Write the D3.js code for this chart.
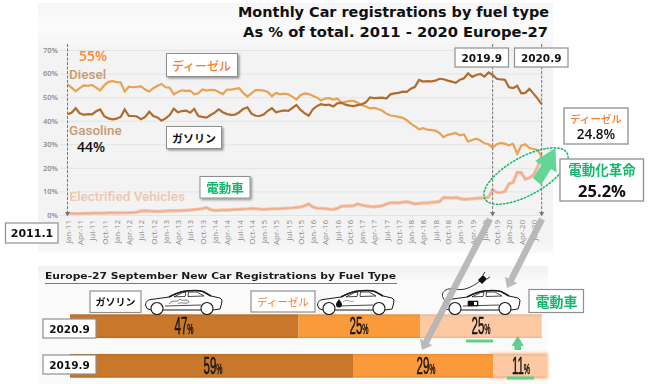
<!DOCTYPE html>
<html><head><meta charset="utf-8">
<script src="https://cdn.jsdelivr.net/npm/d3@7/dist/d3.min.js"></script>
<style>
html,body{margin:0;padding:0;background:#fff;overflow:hidden}
svg{display:block;filter:blur(0.3px)}
text{font-family:"Open Sans","Noto Sans",sans-serif}
</style></head><body><svg id="c" width="650" height="384"></svg>
<script>
const dieselValues=[55.4,54.0,52.5,53.8,55.0,54.8,55.2,54.0,52.8,55.0,56.5,56.8,
56.4,56.2,52.4,54.4,54.2,54.4,54.6,53.2,52.4,53.8,54.8,55.6,
54.2,54.0,51.2,52.2,52.9,52.7,52.8,51.2,51.6,53.3,52.8,53.1,
53.0,52.2,51.3,53.2,53.2,53.5,53.8,51.8,50.2,51.6,53.0,53.0,
52.8,52.2,50.4,51.8,51.2,51.5,51.2,50.2,49.0,50.8,51.6,51.3,
50.6,49.8,48.6,49.4,49.6,49.0,49.4,47.6,48.0,48.4,48.4,47.6,
46.6,46.0,45.2,45.4,45.0,44.2,43.0,42.2,42.0,41.6,41.2,40.2,
38.8,37.6,36.4,36.8,36.2,36.0,35.8,34.8,33.0,34.0,34.4,34.8,
33.8,34.2,31.1,31.8,32.4,31.6,30.4,30.0,28.6,30.0,30.6,30.2,
29.6,30.2,26.0,29.4,30.0,28.4,28.0,27.6,24.8];
const gasolineValues=[42.7,43.4,45.3,43.1,42.5,42.8,42.7,44.0,44.8,41.9,41.0,40.6,
40.9,41.6,44.8,42.0,42.0,41.8,40.6,41.6,43.8,42.0,41.4,40.0,
41.0,42.4,45.1,43.6,44.1,44.3,43.4,45.0,42.0,41.6,41.3,42.4,
43.4,44.8,43.6,42.8,42.5,42.6,43.6,45.0,45.7,43.0,42.1,42.0,
42.6,44.2,45.3,43.6,44.0,44.4,44.2,45.4,46.7,44.6,43.2,42.1,
44.8,46.2,47.0,46.6,46.8,46.0,47.4,47.6,46.8,46.4,46.2,46.6,
47.0,47.8,49.9,49.6,49.7,49.8,49.4,51.2,51.6,51.8,52.3,52.2,
53.6,54.4,57.3,56.6,56.8,56.7,57.0,57.8,57.6,57.0,56.6,56.1,
57.4,58.0,60.1,58.6,59.4,59.8,58.7,60.5,59.4,57.8,57.5,57.4,
54.2,53.8,54.8,51.6,51.8,53.5,51.5,49.4,47.0];
const electrifiedValues=[.7,.7,.6,.6,.7,.7,.8,.8,.8,.8,.9,.9,
.9,.9,.9,1,1,1.2,1.7,1.8,1.7,1.6,1.5,1.6,
1.7,1.8,1.8,1.8,1.9,2,2.1,2.3,2.5,2.7,3.1,2.3,
1.9,2,2.1,2.1,2.2,2.4,2.4,2.5,2.6,2.8,2.7,2.5,
2.4,2.5,2.6,2.6,2.7,2.8,2.9,3.0,3.2,3.4,3.9,4.7,
3.4,2.9,2.8,2.7,2.5,2.4,2.8,3.7,3.8,3.8,4.0,4.7,
4.2,3.9,3.6,3.5,3.7,3.9,4.6,5.2,5.2,5.1,5.4,5.6,
5.2,4.7,4.9,5.1,5.1,5.3,5.5,5.7,7.4,7.3,7.2,7.4,
7.0,6.6,6.8,6.9,7.1,7.2,7.3,7.6,10.6,9.6,9.5,10.0,
13.2,13.8,18.1,18.0,15.2,15.8,17.0,20.4,25.2];
const xTickLabels=["Jan-11","Apr-11","Jul-11","Oct-11","Jan-12","Apr-12","Jul-12","Oct-12","Jan-13","Apr-13","Jul-13","Oct-13","Jan-14","Apr-14","Jul-14","Oct-14","Jan-15","Apr-15","Jul-15","Oct-15","Jan-16","Apr-16","Jul-16","Oct-16","Jan-17","Apr-17","Jul-17","Oct-17","Jan-18","Apr-18","Jul-18","Oct-18","Jan-19","Apr-19","Jul-19","Oct-19","Jan-20","Apr-20","Jul-20"];
const yTicks=[0,10,20,30,40,50,60,70];
const fuels=["ガソリン","ディーゼル","電動車"];
const barRows=["2020.9","2019.9"];
const bar2020=[47,25,25];
const bar2019=[59,29,11];
const barColors=["#c9772a","#fb9a3a","#fdc9a2"];

const svg=d3.select("#c");
const defs=svg.append("defs");
const shadow=defs.append("filter").attr("id","sh").attr("x","-20%").attr("y","-20%").attr("width","150%").attr("height","150%");
shadow.append("feDropShadow").attr("dx",1.5).attr("dy",1.5).attr("stdDeviation",1).attr("flood-color","#000").attr("flood-opacity",.4);
defs.append("filter").attr("id","gl").attr("x","-20%").attr("y","-20%").attr("width","140%").attr("height","140%").append("feGaussianBlur").attr("stdDeviation",1.5);
const grad=(id,stops)=>{const g=defs.append("linearGradient").attr("id",id).attr("x1",0).attr("x2",0).attr("y1",0).attr("y2",1);
 stops.forEach(s=>g.append("stop").attr("offset",s[0]).attr("stop-color",s[1]));};
grad("pan1",[[0,"#f6f6f6"],[.1,"#fbfbfb"],[.2,"#f3f3f3"],[.95,"#f3f3f3"],[1,"#fafafa"]]);
grad("pan2",[[0,"#f1f1f1"],[.15,"#fbfbfb"],[1,"#fafafa"]]);
barColors.forEach((c,i)=>{const d=d3.color(c);grad("b"+i,[[0,d.darker(.25)+""],[.12,c],[.9,c],[1,d.darker(.3)+""]]);});

svg.append("rect").attr("x",38).attr("y",3).attr("width",515).attr("height",250).attr("fill","url(#pan1)");
svg.append("rect").attr("x",38).attr("y",266).attr("width",510).attr("height",118).attr("fill","url(#pan2)");

const x=d3.scaleLinear().domain([0,116]).range([67.5,541.7]);
const y=d3.scaleLinear().domain([0,70]).range([215,50]);

const gy=svg.append("g").attr("transform","translate(60,0)").call(d3.axisLeft(y).tickValues(yTicks).tickFormat(d=>d+"%").tickSize(-481.7).tickPadding(2));
gy.select(".domain").remove();
gy.selectAll("line").attr("stroke","#e4e4e4").attr("stroke-width",1);
gy.selectAll("text").attr("fill","#8a8a8a").attr("font-size",7.5).attr("font-weight",600).attr("font-family","Roboto,sans-serif");

const gx=svg.append("g").attr("transform","translate(0,215)").call(d3.axisBottom(x).tickValues(xTickLabels.map((d,i)=>i*3)).tickFormat((d,i)=>xTickLabels[i]).tickSize(0));
gx.select(".domain").remove();
gx.selectAll("text").attr("fill","#8a8a8a").attr("font-size",8).attr("font-family","Roboto,sans-serif")
  .attr("transform","rotate(-90)").attr("text-anchor","end").attr("x",-5).attr("y",0).attr("dy","0.35em");

const line=d3.line().x((d,i)=>x(i)).y(d=>y(d));
svg.append("path").datum(electrifiedValues).attr("d",line).attr("fill","none").attr("stroke","#f3c3a8").attr("stroke-width",3.4);
svg.append("path").datum(electrifiedValues).attr("d",line).attr("fill","none").attr("stroke","#eeaa86").attr("stroke-width",1.2);
svg.append("path").datum(dieselValues).attr("d",line).attr("fill","none").attr("stroke","#e9a252").attr("stroke-width",2.2);
svg.append("path").datum(gasolineValues).attr("d",line).attr("fill","none").attr("stroke","#b06c2e").attr("stroke-width",2.2);

// dashed markers
[[0,44],[104,44],[116,44]].forEach(m=>{
 const px=x(m[0]);
 svg.append("line").attr("x1",px).attr("x2",px).attr("y1",m[1]).attr("y2",213).attr("stroke","#777").attr("stroke-width",1).attr("stroke-dasharray","3 1.5");
 svg.append("path").attr("d",`M${px-2.5},212 L${px+2.5},212 L${px},216.5Z`).attr("fill","#777");
});

// title
const tt=[["Monthly Car registrations by fuel type",238,17,311],["As % of total. 2011 - 2020 Europe-27",243,37,305]];
tt.forEach(t=>svg.append("text").text(t[0]).attr("x",t[1]).attr("y",t[2]).attr("textLength",t[3]).attr("lengthAdjust","spacingAndGlyphs")
 .attr("font-weight",700).attr("font-size",13.5).attr("fill","#111").style("font-family","DejaVu Sans"));

const label=(s,px,py,c,fs,w,fam)=>svg.append("text").text(s).attr("x",px).attr("y",py).attr("fill",c).attr("font-size",fs).attr("font-weight",w||400).style("font-family",fam||"Roboto");
label("55%",79,61,"#fb8a3c",14,600,"Open Sans");
label("Diesel",69,78.5,"#c99a70",13.5,500);
label("Gasoline",69,134.5,"#c99a70",13.5,500);
label("44%",77,152,"#111",14,600,"Open Sans");
label("Electrified Vehicles",69.5,201,"#efc6ae",13.5,500);

// callout boxes
const jp='"Noto Sans CJK JP"';
function box(x0,y0,x1,y1,sh,sw){
 svg.append("rect").attr("x",x0).attr("y",y0).attr("width",x1-x0).attr("height",y1-y0).attr("fill","#fff").attr("stroke","#8f8f8f").attr("stroke-width",sw||1).attr("filter",sh?"url(#sh)":null);
}
function ctext(s,cx,cy,c,fs,w,fam){
 return svg.append("text").text(s).attr("x",cx).attr("y",cy).attr("text-anchor","middle").attr("dominant-baseline","central").attr("fill",c).attr("font-size",fs).attr("font-weight",w).style("font-family",fam);
}
const ORANGE="#f97a2e",GREEN="#12b96c";
box(166.5,53.5,237.5,76.5,true); ctext(fuels[1],201.5,65,ORANGE,12,500,jp);
box(166.5,126.5,221.5,148.5,true); ctext(fuels[0],194,137.5,"#111",11,700,jp);
box(200,176.5,250,198,true); ctext(fuels[2],225,187,GREEN,12.5,700,jp);
box(5.5,223,58,243,false,1.2); ctext("2011.1",32,233,"#111",11,700,"DejaVu Sans");
box(455,48,508.5,67,false,1.2); ctext(barRows[1],481.7,57.5,"#111",10.5,700,"DejaVu Sans");
box(514.5,48,568,67,false,1.2); ctext(barRows[0],541.2,57.5,"#111",10.5,700,"DejaVu Sans");

// green highlight
svg.append("path").attr("d",d3.line()([[533,178],[541,185],[551,169],[556.5,172.5],[555.5,148],[535,161],[541.5,165]])).attr("fill","#63d595");
svg.append("ellipse").attr("cx",526).attr("cy",176).attr("rx",47).attr("ry",19).attr("transform","rotate(-29 526 176)").attr("fill","none").attr("stroke",GREEN).attr("stroke-width",1.5).attr("stroke-dasharray","1.4 2.2").attr("stroke-linecap","round");

box(564,108,628,144,false,1.3); ctext(fuels[1],596,118,ORANGE,10.5,500,jp); ctext("24.8%",596,134,"#111",13.5,600,"Open Sans");
box(560,159,643.5,201,false,1.3); ctext("電動化革命",602,168.5,GREEN,13.5,700,jp); ctext("25.2%",602,190,"#111",16.5,700,"Open Sans");

// bottom heading
svg.append("text").text("Europe-27 September New Car Registrations by Fuel Type").attr("x",45).attr("y",279).attr("textLength",351).attr("lengthAdjust","spacingAndGlyphs")
 .attr("font-weight",700).attr("font-size",9.5).attr("fill","#1a1a1a").style("font-family","DejaVu Sans");
svg.append("line").attr("x1",45).attr("x2",397).attr("y1",283.5).attr("y2",283.5).attr("stroke","#777").attr("stroke-width",1);

// stacked bars
const rowY=d3.scaleBand().domain(barRows).range([314.3,377.7]).paddingInner(.4);
const rowData={[barRows[0]]:{v:bar2020,end:541.7,lx:[184,359,481]},[barRows[1]]:{v:bar2019,end:546,lx:[213,426,521]}};
svg.append("rect").attr("x",490).attr("y",rowY(barRows[1])-1).attr("width",58).attr("height",rowY.bandwidth()+2).attr("fill","#fdc08c").attr("filter","url(#gl)");
barRows.forEach(r=>{
 const o=rowData[r],sx=d3.scaleLinear().domain([0,d3.sum(o.v)]).range([70,o.end]);
 let c=0;
 o.v.forEach((v,i)=>{
  svg.append("rect").attr("x",sx(c)).attr("y",rowY(r)).attr("width",sx(c+v)-sx(c)).attr("height",rowY.bandwidth()).attr("fill",`url(#b${i})`);
  c+=v;
 });
});
barRows.forEach(r=>{
 const o=rowData[r];
 o.v.forEach((v,i)=>{
  const g=svg.append("g").attr("transform",`translate(${o.lx[i]},${rowY(r)+rowY.bandwidth()/2+8}) scale(.5,1)`);
  const t=g.append("text").attr("text-anchor","middle").attr("fill","#151515").attr("stroke","#151515").attr("stroke-width",.5).style("font-family","Liberation Sans").attr("font-size",23).attr("font-weight",400);
  t.append("tspan").text(v);
  t.append("tspan").text("%").attr("font-size",14);
 });
});

// green underlines & up arrow
svg.append("rect").attr("x",466).attr("y",339.5).attr("width",27).attr("height",3).attr("fill","#5fcf8f");
svg.append("rect").attr("x",507).attr("y",376.5).attr("width",27).attr("height",3).attr("fill","#5fcf8f");
svg.append("path").attr("d","M517.7,336 L524,346 L521,346 L521,350 L514.5,350 L514.5,346 L511.5,346Z").attr("fill","#5fcf8f");

// cars
function car(left,top,icon){
 const g=svg.append("g").attr("transform",`translate(${left},${top})`).attr("fill","none").attr("stroke","#1a1a1a").attr("stroke-width",1);
 g.append("path").attr("fill","#fff").attr("d","M0.5,15 C1,11 3,10 6,9.5 L24,7 C30,4 35,1.5 41,1 C47,.3 54,.3 58,1.5 L66,6 L75,8 L77,10 L76.5,14 L75,19 L68,20 L56,20 L20,20 L6,20 L2,18.5Z");
 g.append("path").attr("stroke-width",1.6).attr("d","M24,7 C30,4 35,1.5 41,1 C47,.3 54,.3 58,1.5 L66,6");
 g.append("path").attr("stroke-width",.8).attr("d","M29,6.8 L38,2.4 L41,2.4 L40,6.5Z M43,6.5 L43.5,2 L52,2 L59,6Z M20,16 L56,15");
 [12,62].forEach(w=>g.append("circle").attr("cx",w).attr("cy",18.5).attr("r",6).attr("fill","#fff").attr("stroke-width",1.1));
 if(icon==="gas"){g.append("path").attr("stroke-width",.7).attr("stroke","#444").attr("d","M24,14 C28,8 32,14 35,9 C38,12 42,8 44,12 C40,15 36,11 33,14");}
 if(icon==="diesel"){g.append("path").attr("fill","#111").attr("stroke","none").attr("d","M22,9 C24,12 25,13 25,14.5 A3,3 0 0 1 19,14.5 C19,13 20,12 22,9Z");
   g.append("path").attr("stroke-width",.7).attr("stroke","#777").attr("d","M26,12 C30,8 33,13 37,11");}
 if(icon==="ev"){g.append("rect").attr("x",25).attr("y",11).attr("width",10).attr("height",5).attr("fill","#111").attr("stroke-width",.6);
   g.append("rect").attr("x",31).attr("y",12).attr("width",3).attr("height",3).attr("fill","#fff").attr("stroke","none");
   g.append("path").attr("stroke-width",.9).attr("d","M6,14 C-6,6 0,-3 12,-1 C20,1 28,-2 37,-9");
   g.append("path").attr("fill","#111").attr("stroke","none").attr("d","M35,-10 L40,-15 L44,-11 L39,-6Z");
   g.append("path").attr("stroke-width",.9).attr("d","M40,-15 L42,-18 M44,-11 L47,-13");}
}
car(145,290,"gas"); car(317,290,"diesel"); car(443,290,"ev");

box(90,291,141,312.5,false,1.2); ctext(fuels[0],115.5,301.5,"#111",10,700,jp);
box(251,291,315,312,false,1.2); ctext(fuels[1],283,301.5,ORANGE,10.5,400,jp);
box(529,289.5,583.5,312.5,false,1.2); ctext(fuels[2],556.5,301,GREEN,14,700,jp);
box(43,319,96,338,false,1.2); ctext(barRows[0],69.5,328.5,"#111",10.5,700,"DejaVu Sans");
box(43,355,96,374,false,1.2); ctext(barRows[1],69.5,364.5,"#111",10.5,700,"DejaVu Sans");

// grey diagonal arrows
function diag(x0,y0,x1,y1,w,hw,hl){
 const dx=x1-x0,dy=y1-y0,l=Math.hypot(dx,dy),ux=dx/l,uy=dy/l,nx=-uy,ny=ux,bx=x1-ux*hl,by=y1-uy*hl;
 svg.append("path").attr("fill","#b4b4b4").attr("fill-opacity",.92).attr("d",d3.line()([
  [x0+nx*w,y0+ny*w],[bx+nx*w,by+ny*w],[bx+nx*hw,by+ny*hw],[x1,y1],[bx-nx*hw,by-ny*hw],[bx-nx*w,by-ny*w],[x0-nx*w,y0-ny*w]])+"Z");
}
diag(490,219,422,350,3.2,7,9);
diag(542,219,507,288,3.2,7,9);
</script></body></html>
